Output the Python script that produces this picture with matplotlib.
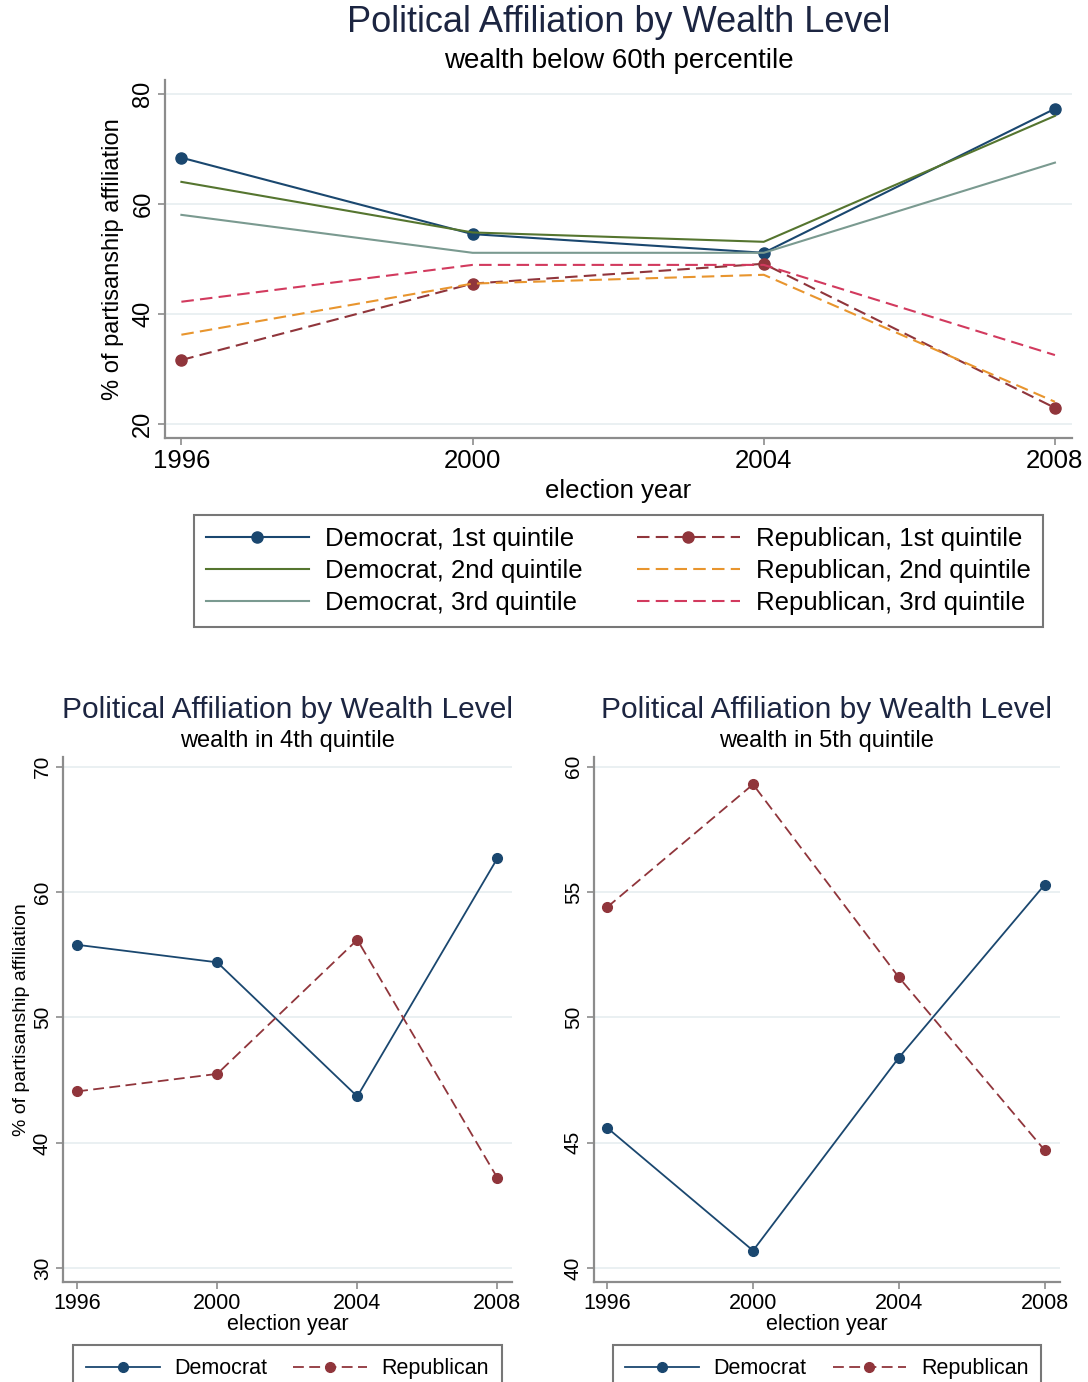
import numpy as np
import matplotlib.pyplot as plt

plt.rcParams['font.family'] = ['Liberation Sans', 'DejaVu Sans']

# ---- Datos: % de afiliacion partidista por año electoral ----
years = [1996, 2000, 2004, 2008]

dem_q1 = [68.4, 54.5, 51.1, 77.3]
dem_q2 = [64.0, 54.8, 53.1, 76.0]
dem_q3 = [58.0, 51.1, 51.1, 67.5]
rep_q1 = [31.6, 45.5, 49.1, 22.9]
rep_q2 = [36.2, 45.5, 47.1, 24.0]
rep_q3 = [42.2, 48.9, 48.9, 32.5]

dem_q4 = [55.8, 54.4, 43.7, 62.7]
rep_q4 = [44.1, 45.5, 56.2, 37.2]

dem_q5 = [45.6, 40.7, 48.4, 55.3]
rep_q5 = [54.4, 59.3, 51.6, 44.7]

# colores tipo Stata s2color
NAVY = '#1a476f'
MAROON = '#90353b'
FOREST = '#55752f'
ORANGE = '#e8952e'
TEAL = '#7a9a90'
CRANBERRY = '#d23a5e'
GRID = '#e6eef0'
SPINE = '#8c8c8c'
TITLE = '#1c2541'
DASH = (6, 3)


def estilo(ax, yticks, ylim, xlim, xfs, yfs):
    for s in ['top', 'right']:
        ax.spines[s].set_visible(False)
    for s in ['left', 'bottom']:
        ax.spines[s].set_color(SPINE)
        ax.spines[s].set_linewidth(1.6)
    ax.set_xticks(years)
    ax.set_yticks(yticks)
    ax.set_xlim(*xlim)
    ax.set_ylim(*ylim)
    ax.tick_params(axis='both', colors=SPINE, labelcolor='black', length=5, width=1.2, pad=3)
    ax.tick_params(axis='x', labelsize=xfs)
    ax.tick_params(axis='y', labelsize=yfs)
    for lab in ax.get_yticklabels():
        lab.set_rotation(90)
        lab.set_va('center')
    ax.grid(axis='y', color=GRID, lw=1.2)
    ax.set_axisbelow(True)


fig = plt.figure(figsize=(10.88, 13.82), dpi=100)

# ---- Grafico superior: quintiles 1 a 3 ----
ax = fig.add_axes([0.152, 0.683, 0.833, 0.259])
ax.plot(years, dem_q1, color=NAVY, lw=1.5, marker='o', ms=8, label='Democrat, 1st quintile')
ax.plot(years, dem_q2, color=FOREST, lw=1.5, label='Democrat, 2nd quintile')
ax.plot(years, dem_q3, color=TEAL, lw=1.5, label='Democrat, 3rd quintile')
ax.plot(years, rep_q1, color=MAROON, lw=1.5, dashes=DASH, marker='o', ms=8, label='Republican, 1st quintile')
ax.plot(years, rep_q2, color=ORANGE, lw=1.5, dashes=DASH, label='Republican, 2nd quintile')
ax.plot(years, rep_q3, color=CRANBERRY, lw=1.5, dashes=DASH, label='Republican, 3rd quintile')
estilo(ax, [20, 40, 60, 80], (17.4, 82.5), (1995.78, 2008.23), 18.5, 17)
ax.set_xlabel('election year', fontsize=18.5, labelpad=4)
ax.set_ylabel('% of partisanship affiliation', fontsize=17, labelpad=6)
fig.text(0.569, 0.984, 'Political Affiliation by Wealth Level', ha='center', va='center',
         fontsize=26, color=TITLE)
fig.text(0.569, 0.956, 'wealth below 60th percentile', ha='center', va='center', fontsize=20)
leg = ax.legend(ncol=2, loc='upper center', bbox_to_anchor=(0.5, -0.18), fontsize=18.5,
                handlelength=4.0, handletextpad=0.65, columnspacing=2.1, labelspacing=0.32,
                fancybox=False, edgecolor='#555555', borderpad=0.45)
leg.get_frame().set_linewidth(1.5)

# ---- Graficos inferiores: quintiles 4 y 5 ----
paneles = [
    ([0.058, 0.0724, 0.413, 0.38], dem_q4, rep_q4, 'wealth in 4th quintile',
     [30, 40, 50, 60, 70], (28.9, 70.8), (1995.6, 2008.43)),
    ([0.546, 0.0724, 0.428, 0.38], dem_q5, rep_q5, 'wealth in 5th quintile',
     [40, 45, 50, 55, 60], (39.45, 60.4), (1995.64, 2008.41)),
]
for i, (rect, dem, rep, sub, yt, yl, xl) in enumerate(paneles):
    ax = fig.add_axes(rect)
    ax.plot(years, dem, color=NAVY, lw=1.3, marker='o', ms=7, label='Democrat')
    ax.plot(years, rep, color=MAROON, lw=1.3, dashes=DASH, marker='o', ms=7, label='Republican')
    estilo(ax, yt, yl, xl, 15.5, 15)
    ax.set_xlabel('election year', fontsize=15.5, labelpad=0)
    if i == 0:
        ax.set_ylabel('% of partisanship affiliation', fontsize=14, labelpad=2)
    cx = rect[0] + rect[2] / 2
    fig.text(cx, 0.4863, 'Political Affiliation by Wealth Level', ha='center', va='center',
             fontsize=21.5, color=TITLE)
    fig.text(cx, 0.4638, sub, ha='center', va='center', fontsize=17)
    leg = ax.legend(ncol=2, loc='upper center', bbox_to_anchor=(0.5, -0.1), fontsize=15.5,
                    handlelength=3.4, handletextpad=0.7, columnspacing=1.2, fancybox=False,
                    edgecolor='#555555', borderpad=0.6)
    leg.get_frame().set_linewidth(1.5)

fig.savefig('out.png', dpi=100)
